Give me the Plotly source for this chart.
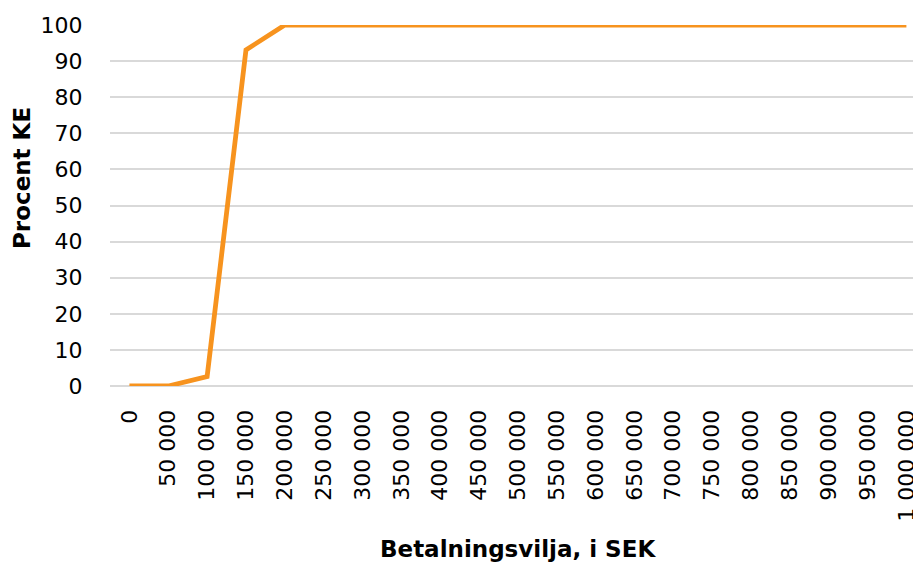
import plotly.graph_objects as go

categories = ["0", "50 000", "100 000", "150 000", "200 000", "250 000", "300 000",
              "350 000", "400 000", "450 000", "500 000", "550 000", "600 000",
              "650 000", "700 000", "750 000", "800 000", "850 000", "900 000",
              "950 000", "1 000 000"]
procent_ke = [0, 0, 2.6, 93.1, 100, 100, 100, 100, 100, 100, 100, 100, 100,
              100, 100, 100, 100, 100, 100, 100, 100]
y_ticks = [0, 10, 20, 30, 40, 50, 60, 70, 80, 90, 100]

FONT = "DejaVu Sans, Verdana, sans-serif"
FS = 22
FS_TITLE = 23

fig = go.Figure()
fig.add_trace(go.Scatter(
    x=list(range(len(categories))), y=procent_ke, mode="lines",
    line=dict(color="#F7931E", width=4.8), hoverinfo="skip", showlegend=False,
))

fig.update_layout(
    width=913, height=563,
    margin=dict(l=110, r=0, t=25, b=177),
    paper_bgcolor="white", plot_bgcolor="white",
    font=dict(family=FONT, size=FS, color="#000000"),
    xaxis=dict(
        tickmode="array", tickvals=list(range(len(categories))), ticktext=categories,
        tickangle=-90, range=[-0.5, 20.17], showgrid=False, zeroline=False,
        showline=False, ticks="outside", ticklen=14, tickcolor="rgba(0,0,0,0)",
        tickfont=dict(family=FONT, size=FS), automargin=False,
        ticklabeloverflow="allow",
    ),
    yaxis=dict(
        tickmode="array", tickvals=y_ticks, range=[0, 100],
        showgrid=True, gridcolor="#D9D9D9", gridwidth=1.5,
        zeroline=True, zerolinecolor="#D9D9D9", zerolinewidth=1.5,
        showline=False, ticks="outside", ticklen=22, tickcolor="rgba(0,0,0,0)",
        tickfont=dict(family=FONT, size=FS), automargin=False,
    ),
    annotations=[
        dict(text="<b>Betalningsvilja, i SEK</b>", xref="paper", yref="paper",
             x=(518 - 110) / 803, y=-(549 - 386) / 361, xanchor="center", yanchor="middle",
             showarrow=False, font=dict(family=FONT, size=FS_TITLE)),
        dict(text="<b>Procent KE</b>", xref="paper", yref="paper",
             x=(22 - 110) / 803, y=(386 - 178) / 361, xanchor="center", yanchor="middle",
             showarrow=False, textangle=-90, font=dict(family=FONT, size=FS_TITLE)),
    ],
)

fig.write_html("out.html", config={"displayModeBar": False},
               post_script="document.body.style.margin='0';document.body.style.overflow='hidden';")
